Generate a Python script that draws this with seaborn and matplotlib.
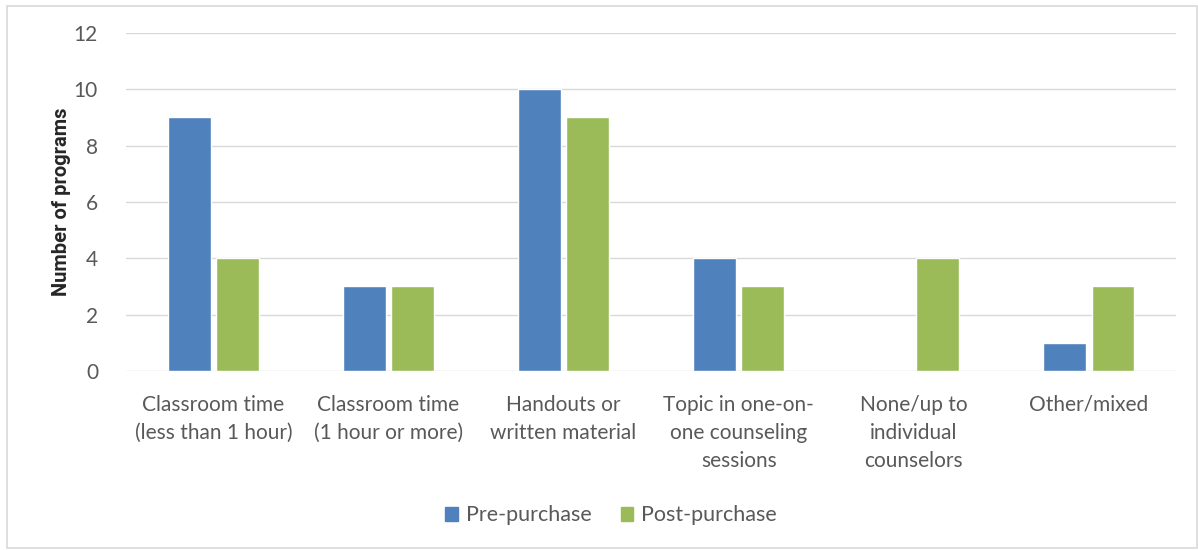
"""Housing counseling delivery methods — grouped bar chart"""

import matplotlib
matplotlib.use("Agg")
import matplotlib.pyplot as plt
import matplotlib.patches as mpatches
import pandas as pd
import seaborn as sns

categories = [
    "Classroom time\n(less than 1 hour)",
    "Classroom time\n(1 hour or more)",
    "Handouts or\nwritten material",
    "Topic in one-on-\none counseling\nsessions",
    "None/up to\nindividual\ncounselors",
    "Other/mixed",
]
pre_purchase = [9, 3, 10, 4, 0, 1]
post_purchase = [4, 3, 9, 3, 4, 3]
series_names = ["Pre-purchase", "Post-purchase"]
colors = {"Pre-purchase": "#4f81bd", "Post-purchase": "#9bbb59"}

df = pd.DataFrame({
    "category": categories * 2,
    "series": [series_names[0]] * len(categories) + [series_names[1]] * len(categories),
    "value": pre_purchase + post_purchase,
})

sns.set_style("white")
plt.rcParams["font.family"] = ["Lato", "DejaVu Sans"]

fig = plt.figure(figsize=(11.98, 5.5), dpi=100)
ax = fig.add_axes([0.105, 0.3255, 0.877, 0.6145])

sns.barplot(data=df, x="category", y="value", hue="series", palette=colors,
            width=0.55, gap=0.11, ax=ax, legend=False, saturation=1)

ax.set_ylim(0, 12)
ax.set_yticks(range(0, 13, 2))
ax.set_xlim(-0.5, len(categories) - 0.5)
ax.yaxis.grid(True, color="#d9d9d9", linewidth=1)
ax.set_axisbelow(True)
for s in ax.spines.values():
    s.set_visible(False)
ax.tick_params(length=0, labelsize=15, labelcolor="#595959")
ax.tick_params(axis="y", pad=20)
ax.tick_params(axis="x", pad=17)
for lbl in ax.get_xticklabels():
    lbl.set_linespacing(1.5)
ax.set_xlabel("")
ax.set_ylabel("Number of programs", fontsize=14.5, fontweight="bold",
              family=["Roboto", "DejaVu Sans"], labelpad=2)

handles = [mpatches.Patch(color=colors[n], label=n) for n in series_names]
fig.legend(handles=handles, loc="center", bbox_to_anchor=(0.51, 0.063), ncol=2,
           frameon=False, fontsize=15.5, handlelength=0.6, handleheight=0.6,
           handletextpad=0.35, columnspacing=1.35, labelcolor="#595959")

fig.patches.append(mpatches.Rectangle((7 / 1198, 2 / 550), 1 - 8 / 1198, 1 - 8 / 550,
                                      transform=fig.transFigure, fill=False,
                                      edgecolor="#d9d9d9", linewidth=1.2))

fig.savefig("out.png", dpi=100, facecolor="white")
